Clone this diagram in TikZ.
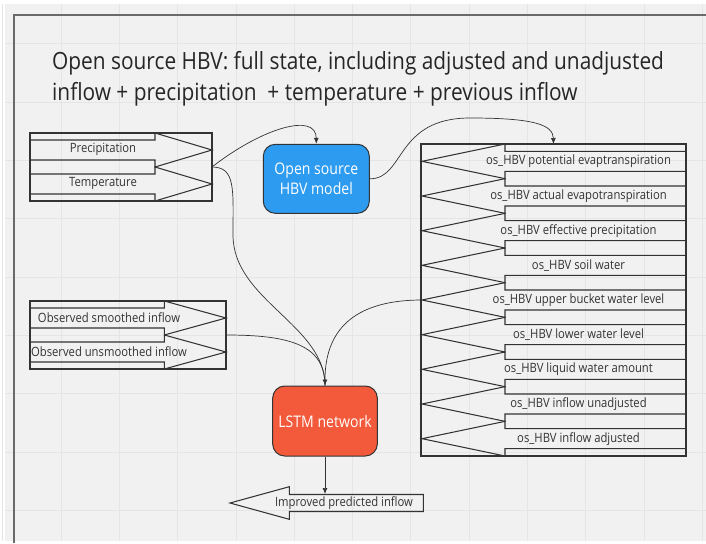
\documentclass[tikz,border=0pt]{standalone}
\usepackage{fontspec}
\setmainfont{Open Sans}[FakeStretch=0.88]
\usetikzlibrary{arrows.meta}
\definecolor{bgcol}{HTML}{F1F1F1}
\definecolor{gridcol}{HTML}{E5E5E5}
\definecolor{framecol}{HTML}{6A6A6A}
\definecolor{linecol}{HTML}{333333}
\definecolor{hbvblue}{HTML}{2D9BF0}
\definecolor{lstmred}{HTML}{F35A3B}
\begin{document}
\begin{tikzpicture}[x=1pt,y=-1pt,
  shapeline/.style={draw=linecol,line width=1.05pt,line join=miter},
  framebox/.style={draw=linecol,line width=1.05pt,inner sep=0pt,outer sep=0pt},
  lbl/.style={font=\fontsize{12.8}{14}\selectfont,text=black!80,inner sep=0pt},
  proc/.style={draw=linecol,line width=1pt,rounded corners=12pt,minimum width=106pt,minimum height=69pt,text=white,align=center,inner sep=0pt,font=\fontsize{16}{19.5}\selectfont},
  conn/.style={draw=linecol,line width=0.7pt,-{Latex[length=6pt,width=5pt]}},
  plain/.style={draw=linecol,line width=0.7pt},
  titletext/.style={anchor=base west,inner sep=0pt,text=black!85,font=\fontsize{23.7}{30}\selectfont}]
\useasboundingbox (0,0) rectangle (706,543);
\fill[white] (0,0) rectangle (706,543);
\fill[bgcol] (5,4) rectangle (706,541);
\foreach \i in {0,...,12} \draw[gridcol,line width=0.8pt] (2.7+58.3*\i,4) -- (2.7+58.3*\i,541);
\foreach \i in {0,...,8} \draw[gridcol,line width=0.8pt] (5,43.9+58.3*\i) -- (706,43.9+58.3*\i);
\draw[framecol,line width=1.8pt] (14,543) -- (14,15) -- (706,15);
% title
\node[titletext] (t1) at (52,70) {Open source HBV: full state, including adjusted and unadjusted};
\node[titletext] (t2) at (52,100) {inflow + precipitation\ \ + temperature + previous inflow};
% box A
\node[framebox,minimum width=182pt,minimum height=68pt] (A) at (121,167) {};
\foreach \yc in {150,184}
  \draw[shapeline] (30,\yc-10) -- (155,\yc-10) -- (155,\yc-17) -- (212,\yc) -- (155,\yc+17) -- (155,\yc+10) -- (30,\yc+10);
\node[lbl] (precip) at (103,149) {Precipitation};
\node[lbl] (temp) at (103,183.5) {Temperature};
% box B
\node[framebox,minimum width=196pt,minimum height=68pt] (B) at (128,335) {};
\foreach \yc in {318,352}
  \draw[shapeline] (30,\yc-10) -- (164.3,\yc-10) -- (164.3,\yc-17) -- (226,\yc) -- (164.3,\yc+17) -- (164.3,\yc+10) -- (30,\yc+10);
\node[lbl] (smooth) at (109,318) {Observed smoothed inflow};
\node[lbl] (unsmooth) at (109,352) {Observed unsmoothed inflow};
% right box
\node[framebox,minimum width=265pt,minimum height=312pt] (R) at (553.5,300) {};
\foreach \i/\t in {0/os\_HBV potential evaptranspiration,1/os\_HBV actual evapotranspiration,2/os\_HBV effective precipitation,3/os\_HBV soil water,4/os\_HBV upper bucket water level,5/os\_HBV lower water level,6/os\_HBV liquid water amount,7/os\_HBV inflow unadjusted,8/os\_HBV inflow adjusted}{
  \pgfmathsetmacro{\yc}{144+34.667*(\i+0.5)}
  \draw[shapeline] (686,\yc-10) -- (505,\yc-10) -- (505,\yc-17.33) -- (422,\yc) -- (505,\yc+17.33) -- (505,\yc+10) -- (686,\yc+10);
  \node[lbl] (r\i) at (578.5,\yc) {\t};
  \coordinate (rt\i) at (422,\yc);
}
% process nodes
\node[proc,fill=hbvblue] (hbv) at (316.3,178.8) {Open source\\HBV model};
\node[proc,fill=lstmred,minimum width=104.6pt,minimum height=70pt] (lstm) at (325,421) {LSTM network};
% output arrow
\draw[shapeline] (423.3,494.5) -- (289.3,494.5) -- (289.3,486.7) -- (230,503) -- (289.3,519.3) -- (289.3,511.5) -- (423.3,511.5) -- cycle;
\node[lbl] (out) at (344,503) {Improved predicted inflow};
\coordinate (outtop) at (325,494);
% connectors
\draw[conn] (A.east) .. controls (262,128) and (316,112) .. (hbv.north);
\draw[plain] (A.east) .. controls (236,167) and (233,190) .. (233,235) .. controls (233,300) and (325,325) .. (lstm.north);
\draw[plain] (B.east) .. controls (290,335) and (325,345) .. (lstm.north);
\draw[conn] (rt4) .. controls (360,300) and (325,325) .. (lstm.north);
\draw[conn] (hbv.east) .. controls (405,179) and (395,118) .. (470,118) .. controls (535,118) and (553,125) .. (R.north);
\draw[conn] (lstm.south) -- (outtop);
\end{tikzpicture}
\end{document}
